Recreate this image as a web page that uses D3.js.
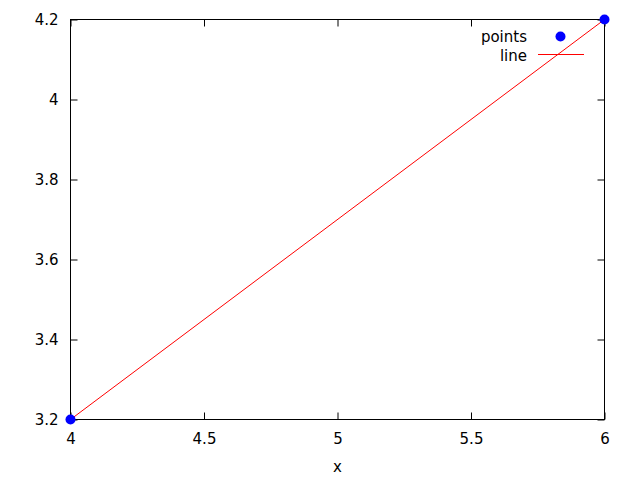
<!DOCTYPE html>
<html><head><meta charset="utf-8">
<script src="https://cdn.jsdelivr.net/npm/d3@7"></script>
<style>body{margin:0;background:#fff}svg{display:block}text{font-family:"DejaVu Sans",sans-serif;font-size:15px;fill:#000}</style>
</head><body>
<script>
const xs = [4, 6];
const ys = [3.2, 4.2];
const xTicks = [4, 4.5, 5, 5.5, 6];
const yTicks = [3.2, 3.4, 3.6, 3.8, 4.0, 4.2];
const xLabel = "x";
const legendNames = ["points", "line"];

const W = 640, H = 480;
const m = {l: 70.5, r: 604.5, t: 19.5, b: 419.5};
const svg = d3.select("body").append("svg").attr("width", W).attr("height", H);
const x = d3.scaleLinear().domain([4, 6]).range([m.l, m.r]);
const y = d3.scaleLinear().domain([3.2, 4.2]).range([m.b, m.t]);
const fmt = d => (Math.round(d*10)/10).toString();
const tl = 7;

const ax = (g) => g.selectAll("path,line").attr("stroke", "#000");
const gb = svg.append("g").attr("transform", `translate(0,${m.b})`)
  .call(d3.axisBottom(x).tickValues(xTicks).tickFormat(fmt).tickSizeInner(-tl).tickSizeOuter(0).tickPadding(14));
gb.select(".domain").remove();
gb.selectAll("text").attr("font-size", null).attr("font-family", null);
const gt = svg.append("g").attr("transform", `translate(0,${m.t})`)
  .call(d3.axisTop(x).tickValues(xTicks).tickFormat("").tickSizeInner(-tl).tickSizeOuter(0));
gt.select(".domain").remove();
const gl = svg.append("g").attr("transform", `translate(${m.l},0)`)
  .call(d3.axisLeft(y).tickValues(yTicks).tickFormat(fmt).tickSizeInner(-tl).tickSizeOuter(0).tickPadding(12));
gl.select(".domain").remove();
gl.selectAll("text").attr("font-size", null).attr("font-family", null);
const gr = svg.append("g").attr("transform", `translate(${m.r},0)`)
  .call(d3.axisRight(y).tickValues(yTicks).tickFormat("").tickSizeInner(-tl).tickSizeOuter(0));
gr.select(".domain").remove();
[gb, gt, gl, gr].forEach(ax);

svg.append("rect").attr("x", m.l).attr("y", m.t).attr("width", m.r - m.l).attr("height", m.b - m.t)
  .attr("fill", "none").attr("stroke", "#000");

svg.append("text").attr("x", (m.l + m.r) / 2).attr("y", 472).attr("text-anchor", "middle").text(xLabel);

const pts = xs.map((d, i) => [d, ys[i]]);
svg.append("path").datum(pts).attr("d", d3.line().x(d => x(d[0])).y(d => y(d[1])))
  .attr("stroke", "#ff0000").attr("stroke-width", 1).attr("fill", "none");
svg.selectAll("circle.pt").data(pts).join("circle").attr("class", "pt")
  .attr("cx", d => x(d[0])).attr("cy", d => y(d[1])).attr("r", 5).attr("fill", "#0000ff");

const lg = svg.append("g");
lg.append("text").attr("x", 527).attr("y", 42).attr("text-anchor", "end").text(legendNames[0]);
lg.append("circle").attr("cx", 560.5).attr("cy", 36.5).attr("r", 5).attr("fill", "#0000ff");
lg.append("text").attr("x", 527).attr("y", 61).attr("text-anchor", "end").text(legendNames[1]);
lg.append("line").attr("x1", 538).attr("x2", 584).attr("y1", 54.5).attr("y2", 54.5).attr("stroke", "#ff0000");
</script>
</body></html>
